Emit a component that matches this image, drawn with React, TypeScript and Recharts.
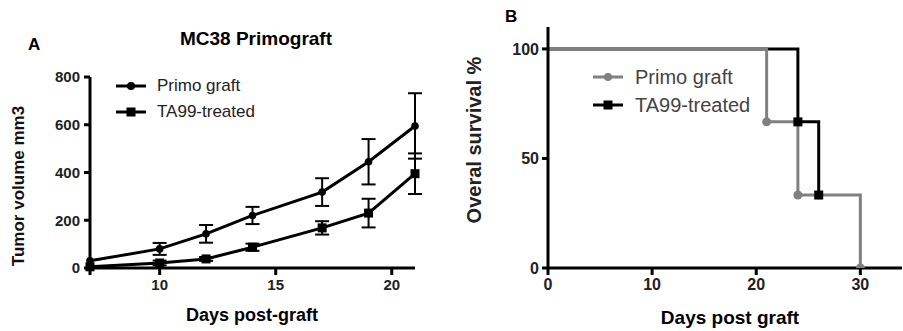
import { ErrorBar, Line, LineChart, XAxis, YAxis } from 'recharts';

// Panel A: tumor growth (mean ± SEM)
const TUMOR_DAYS = [7, 10, 12, 14, 17, 19, 21];
const PRIMO_VOLUME = [30, 80, 143, 220, 318, 445, 595];
const PRIMO_SEM = [0, 25, 37, 36, 58, 95, 137];
const TA99_VOLUME = [5, 21, 38, 87, 168, 230, 395];
const TA99_SEM = [0, 10, 8, 15, 28, 60, 85];
const TUMOR_X_TICKS = [7, 10, 15, 20];
const TUMOR_Y_TICKS = [0, 200, 400, 600, 800];

// Panel B: Kaplan-Meier survival
const PRIMO_SURV_DAYS = [0, 21, 24, 30];
const PRIMO_SURV = [100, 66.7, 33.3, 0];
const TA99_SURV_DAYS = [0, 24, 26];
const TA99_SURV = [100, 66.7, 33.3];
const SURV_X_TICKS = [0, 10, 20, 30];
const SURV_Y_TICKS = [0, 50, 100];

const FONT = '"Liberation Sans", Arial, sans-serif';
const GRAY = '#808080';

const tumorRows = TUMOR_DAYS.map((day, i) => ({
  day,
  primo: PRIMO_VOLUME[i],
  primoErr: PRIMO_SEM[i],
  ta99: TA99_VOLUME[i],
  ta99Err: TA99_SEM[i],
}));

const primoSurvRows = PRIMO_SURV_DAYS.map((day, i) => ({ day, pct: PRIMO_SURV[i] }));
const ta99SurvRows = TA99_SURV_DAYS.map((day, i) => ({ day, pct: TA99_SURV[i] }));

const axisLine = { stroke: '#000', strokeWidth: 3 };

const CircleDot = (props: any) => {
  const { cx, cy, index, fill, skipFirst, size } = props;
  if (cx == null || cy == null || (skipFirst && index === 0)) return <g key={index} />;
  return <circle key={index} cx={cx} cy={cy} r={size} fill={fill} />;
};

const SquareDot = (props: any) => {
  const { cx, cy, index, fill, skipFirst } = props;
  if (cx == null || cy == null || (skipFirst && index === 0)) return <g key={index} />;
  return <rect key={index} x={cx - 4.5} y={cy - 4.5} width={9} height={9} fill={fill} />;
};

const LegendIcon = ({ color, square }: { color: string; square?: boolean }) => (
  <svg width={30} height={12} style={{ display: 'block' }}>
    <line x1={0} y1={6} x2={30} y2={6} stroke={color} strokeWidth={3} />
    {square ? (
      <rect x={10.5} y={1.5} width={9} height={9} fill={color} />
    ) : (
      <circle cx={15} cy={6} r={4} fill={color} />
    )}
  </svg>
);

const abs = (style: React.CSSProperties): React.CSSProperties => ({
  position: 'absolute',
  fontFamily: FONT,
  whiteSpace: 'nowrap',
  lineHeight: 1,
  ...style,
});

export default function App() {
  return (
    <div
      style={{
        position: 'absolute',
        left: 0,
        top: 0,
        width: 903,
        height: 331,
        background: '#fff',
        overflow: 'hidden',
        fontFamily: FONT,
      }}
    >
      {/* Panel A */}
      <div style={{ position: 'absolute', left: 0, top: 0 }}>
        <LineChart
          width={440}
          height={331}
          data={tumorRows}
          margin={{ top: 77, right: 25, bottom: 3, left: 30 }}
        >
          <XAxis
            type="number"
            dataKey="day"
            domain={[7, 21]}
            ticks={TUMOR_X_TICKS}
            tickFormatter={(v: number) => (v === 7 ? '' : String(v))}
            height={60}
            axisLine={axisLine}
            tickLine={axisLine}
            tickSize={7}
            tickMargin={4}
            tick={{ fill: '#222', fontSize: 15, fontFamily: FONT, fontWeight: 'bold' }}
          />
          <YAxis
            type="number"
            domain={[0, 800]}
            ticks={TUMOR_Y_TICKS}
            width={60}
            axisLine={axisLine}
            tickLine={axisLine}
            tickSize={6}
            tickMargin={4}
            tick={{ fill: '#222', fontSize: 15, fontFamily: FONT, fontWeight: 'bold' }}
          />
          <Line
            dataKey="primo"
            stroke="#000"
            strokeWidth={3}
            dot={(p: any) => <CircleDot {...p} fill="#000" size={3.8} />}
            isAnimationActive={false}
          >
            <ErrorBar dataKey="primoErr" width={7} stroke="#000" strokeWidth={2} direction="y" />
          </Line>
          <Line
            dataKey="ta99"
            stroke="#000"
            strokeWidth={3}
            dot={(p: any) => <SquareDot {...p} fill="#000" />}
            isAnimationActive={false}
          >
            <ErrorBar dataKey="ta99Err" width={7} stroke="#000" strokeWidth={2} direction="y" />
          </Line>
        </LineChart>
      </div>

      <div style={abs({ left: 28, top: 36, fontSize: 17, fontWeight: 'bold' })}>A</div>
      <div style={abs({ left: 256, top: 29, fontSize: 19, fontWeight: 'bold', transform: 'translateX(-50%)' })}>
        MC38 Primograft
      </div>
      <div
        style={abs({
          left: 18,
          top: 186,
          fontSize: 17,
          fontWeight: 'bold',
          color: '#111',
          transform: 'translate(-50%, -50%) rotate(-90deg)',
        })}
      >
        Tumor volume mm3
      </div>
      <div style={abs({ left: 252, top: 306, fontSize: 18, fontWeight: 'bold', transform: 'translateX(-50%)' })}>
        Days post-graft
      </div>
      <div style={abs({ left: 116, top: 77, display: 'flex', alignItems: 'center', fontSize: 17, color: '#222' })}>
        <LegendIcon color="#000" />
        <span style={{ marginLeft: 11 }}>Primo graft</span>
      </div>
      <div style={abs({ left: 116, top: 103, display: 'flex', alignItems: 'center', fontSize: 17, color: '#222' })}>
        <LegendIcon color="#000" square />
        <span style={{ marginLeft: 11 }}>TA99-treated</span>
      </div>

      {/* Panel B */}
      <div style={{ position: 'absolute', left: 460, top: 0 }}>
        <LineChart width={443} height={331} margin={{ top: 27, right: 1, bottom: 3, left: 28 }}>
          <XAxis
            type="number"
            dataKey="day"
            domain={[0, 34]}
            ticks={SURV_X_TICKS}
            height={60}
            allowDataOverflow
            axisLine={axisLine}
            tickLine={axisLine}
            tickSize={7}
            tickMargin={4}
            tick={{ fill: '#222', fontSize: 16, fontFamily: FONT, fontWeight: 'bold' }}
          />
          <YAxis
            type="number"
            domain={[0, 110]}
            ticks={SURV_Y_TICKS}
            width={60}
            allowDataOverflow
            axisLine={axisLine}
            tickLine={axisLine}
            tickSize={6}
            tickMargin={3}
            tick={{ fill: '#222', fontSize: 16, fontFamily: FONT, fontWeight: 'bold' }}
          />
          <Line
            data={ta99SurvRows}
            dataKey="pct"
            type="stepAfter"
            stroke="#000"
            strokeWidth={3}
            dot={(p: any) => <SquareDot {...p} fill="#000" skipFirst />}
            isAnimationActive={false}
          />
          <Line
            data={primoSurvRows}
            dataKey="pct"
            type="stepAfter"
            stroke={GRAY}
            strokeWidth={3}
            dot={(p: any) => <CircleDot {...p} fill={GRAY} size={4.5} skipFirst />}
            isAnimationActive={false}
          />
        </LineChart>
      </div>

      <div style={abs({ left: 505, top: 8, fontSize: 17, fontWeight: 'bold' })}>B</div>
      <div
        style={abs({
          left: 474,
          top: 140,
          fontSize: 20,
          fontWeight: 'bold',
          color: '#222',
          transform: 'translate(-50%, -50%) rotate(-90deg)',
        })}
      >
        Overal survival %
      </div>
      <div style={abs({ left: 730, top: 308, fontSize: 19, fontWeight: 'bold', transform: 'translateX(-50%)' })}>
        Days post graft
      </div>
      <div style={abs({ left: 593, top: 67, display: 'flex', alignItems: 'center', fontSize: 20, color: '#444' })}>
        <LegendIcon color={GRAY} />
        <span style={{ marginLeft: 12 }}>Primo graft</span>
      </div>
      <div style={abs({ left: 593, top: 95, display: 'flex', alignItems: 'center', fontSize: 20, color: '#444' })}>
        <LegendIcon color="#000" square />
        <span style={{ marginLeft: 12 }}>TA99-treated</span>
      </div>
    </div>
  );
}
